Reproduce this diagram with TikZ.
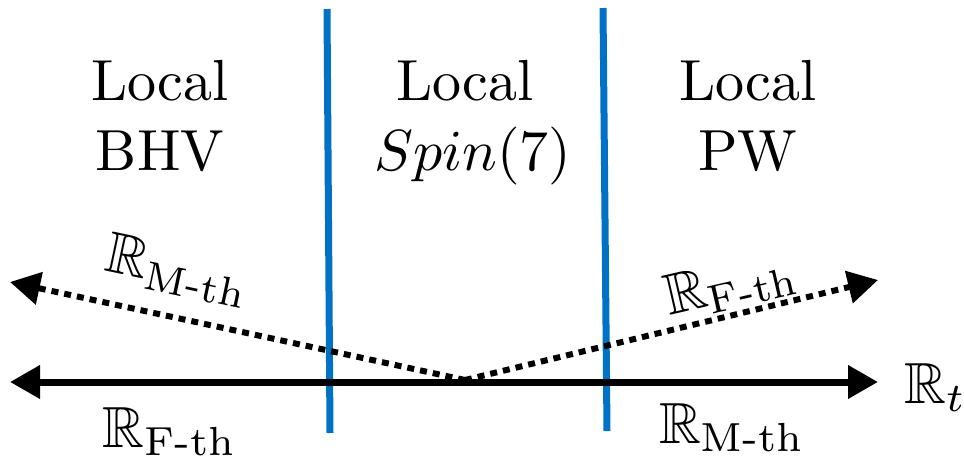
\documentclass[tikz,border=0pt]{standalone}
\usepackage{amsmath,amssymb}
\usetikzlibrary{arrows.meta}
\definecolor{sepblue}{RGB}{0,114,198}
\begin{document}
\begin{tikzpicture}[x=0.5pt,y=-0.5pt,
  lbl/.style={font=\fontsize{10}{12}\selectfont, scale=2.9, inner sep=0pt},
  axisline/.style={line width=3.5pt, {Triangle[length=15pt,width=16pt]}-{Triangle[length=15pt,width=16pt]}},
  dotline/.style={line width=3pt, dash pattern=on 3.5pt off 3pt, -{Triangle[length=15pt,width=16pt]}},
  sep/.style={line width=3.5pt, draw=sepblue}]
\useasboundingbox (0,0) rectangle (964,456);
% coordinates
\coordinate (L) at (10,382);
\coordinate (R) at (878,382);
\coordinate (O) at (465,380);
\coordinate (DL) at (10,282);
\coordinate (DR) at (878,280);
\coordinate (b1t) at (327,9);
\coordinate (b1b) at (330,433);
\coordinate (b2t) at (603,8);
\coordinate (b2b) at (607,431);
% separators
\draw[sep] (b1t) -- (b1b);
\draw[sep] (b2t) -- (b2b);
% axes
\draw[axisline] (L) -- (R);
\draw[dotline] (O) -- (DL);
\draw[dotline] (O) -- (DR);
% region labels
\node[lbl, anchor=base] (l1) at (160,100) {Local};
\node[lbl, anchor=base] (l1b) at (160,170) {BHV};
\node[lbl, anchor=base] (l2) at (465,100) {Local};
\node[lbl, anchor=base] (l2b) at (473,170) {$Spin(7)$};
\node[lbl, anchor=base] (l3) at (748,100) {Local};
\node[lbl, anchor=base] (l3b) at (748,170) {PW};
% axis labels
\node[lbl, anchor=base] (rf) at (170,447) {$\mathbb{R}_{\text{F-th}}$};
\node[lbl, anchor=base] (rm) at (732,443) {$\mathbb{R}_{\text{M-th}}$};
\node[lbl, anchor=base west] (rt) at (903,403) {$\mathbb{R}_t$};
\node[lbl, rotate=-12] (rmd) at (178,271) {$\mathbb{R}_{\text{M-th}}$};
\node[lbl, rotate=13] (rfd) at (731,285) {$\mathbb{R}_{\text{F-th}}$};
\end{tikzpicture}
\end{document}
